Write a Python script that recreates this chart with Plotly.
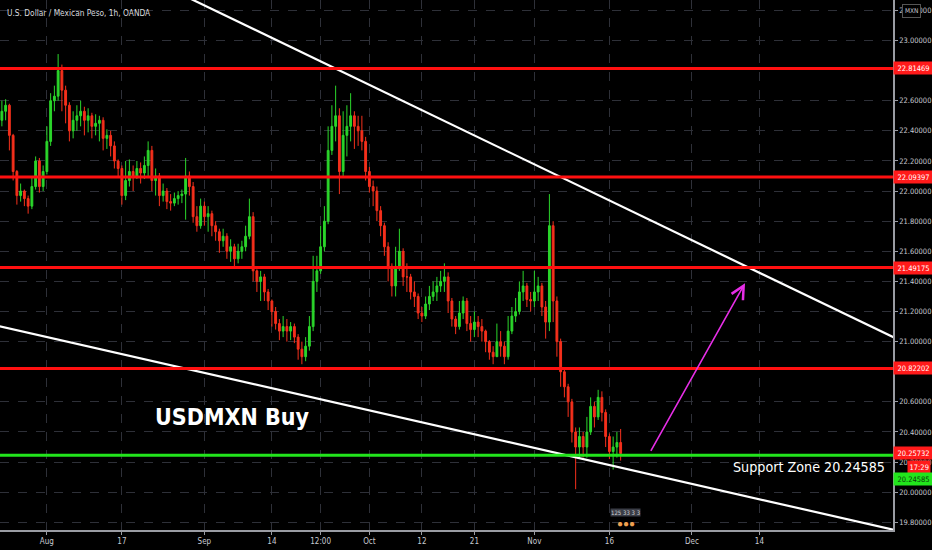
import pandas as pd
import plotly.graph_objects as go

# USD/MXN 1h chart (OANDA) - candles at 12h resolution
first_open = 22.47
closes = [22.53, 22.57, 22.37, 22.13, 21.97, 22.00, 21.95, 21.90, 22.03, 22.20,
          22.03, 22.13, 22.33, 22.60, 22.63, 22.80, 22.67, 22.57, 22.40, 22.47,
          22.50, 22.53, 22.47, 22.50, 22.43, 22.45, 22.47, 22.35, 22.37, 22.30,
          22.20, 22.15, 21.97, 22.07, 22.13, 22.10, 22.15, 22.12, 22.17, 22.27,
          22.07, 22.10, 21.97, 22.00, 21.93, 21.92, 21.95, 21.97, 21.98, 22.10,
          22.03, 21.83, 21.77, 21.90, 21.83, 21.85, 21.77, 21.73, 21.67, 21.70,
          21.60, 21.63, 21.55, 21.60, 21.63, 21.70, 21.83, 21.47, 21.40, 21.43,
          21.33, 21.27, 21.20, 21.12, 21.07, 21.10, 21.07, 21.10, 21.03, 20.95,
          20.90, 20.97, 21.10, 21.40, 21.47, 21.63, 21.80, 22.27, 22.43, 22.50,
          22.13, 22.37, 22.43, 22.50, 22.43, 22.40, 22.33, 22.13, 22.03, 22.00,
          21.87, 21.77, 21.63, 21.50, 21.37, 21.50, 21.60, 21.43, 21.43, 21.33,
          21.30, 21.19, 21.17, 21.25, 21.30, 21.33, 21.37, 21.40, 21.43, 21.27,
          21.15, 21.10, 21.19, 21.27, 21.12, 21.08, 21.13, 21.10, 21.07, 21.00,
          20.93, 20.90, 21.00, 20.97, 20.90, 21.07, 21.17, 21.20, 21.33, 21.37,
          21.28, 21.27, 21.33, 21.37, 21.23, 21.13, 21.77, 21.27, 21.00, 20.80,
          20.70, 20.60, 20.40, 20.30, 20.37, 20.30, 20.40, 20.57, 20.50, 20.63,
          20.53, 20.37, 20.27, 20.30, 20.33, 20.257]
highs = [22.60, 22.61, 22.58, 22.38, 22.14, 22.05, 22.01, 21.97, 22.10, 22.23,
         22.22, 22.17, 22.43, 22.65, 22.70, 22.91, 22.84, 22.70, 22.59, 22.53,
         22.57, 22.60, 22.56, 22.55, 22.52, 22.51, 22.50, 22.49, 22.41, 22.40,
         22.33, 22.21, 22.17, 22.20, 22.21, 22.17, 22.20, 22.19, 22.23, 22.33,
         22.30, 22.15, 22.12, 22.05, 22.02, 21.98, 21.99, 22.00, 22.01, 22.22,
         22.13, 22.06, 21.90, 21.95, 21.93, 21.90, 21.87, 21.80, 21.75, 21.75,
         21.72, 21.68, 21.65, 21.65, 21.67, 21.77, 21.95, 21.86, 21.48, 21.47,
         21.45, 21.35, 21.28, 21.23, 21.15, 21.17, 21.15, 21.13, 21.12, 21.05,
         21.00, 21.03, 21.17, 21.57, 21.57, 21.77, 21.90, 22.43, 22.57, 22.70,
         22.55, 22.53, 22.57, 22.65, 22.53, 22.50, 22.50, 22.36, 22.16, 22.07,
         22.03, 21.90, 21.79, 21.66, 21.52, 21.63, 21.75, 21.62, 21.52, 21.45,
         21.40, 21.32, 21.23, 21.30, 21.37, 21.40, 21.43, 21.47, 21.52, 21.46,
         21.29, 21.17, 21.27, 21.30, 21.29, 21.17, 21.20, 21.17, 21.15, 21.08,
         21.01, 20.97, 21.12, 21.07, 21.00, 21.17, 21.23, 21.29, 21.40, 21.47,
         21.39, 21.33, 21.47, 21.43, 21.39, 21.27, 21.98, 21.80, 21.30, 21.02,
         20.83, 20.72, 20.62, 20.43, 20.43, 20.40, 20.50, 20.63, 20.60, 20.68,
         20.67, 20.55, 20.39, 20.37, 20.40, 20.42]
lows = [22.43, 22.47, 22.27, 22.07, 21.91, 21.93, 21.90, 21.85, 21.88, 22.01,
        21.99, 22.00, 22.11, 22.30, 22.53, 22.60, 22.53, 22.45, 22.33, 22.35,
        22.40, 22.43, 22.37, 22.39, 22.35, 22.37, 22.33, 22.27, 22.28, 22.23,
        22.15, 22.10, 21.91, 21.94, 22.03, 22.00, 22.08, 22.05, 22.08, 22.10,
        22.00, 21.97, 21.90, 21.93, 21.88, 21.87, 21.90, 21.91, 21.92, 21.81,
        21.97, 21.79, 21.73, 21.75, 21.77, 21.73, 21.70, 21.67, 21.59, 21.63,
        21.55, 21.53, 21.50, 21.52, 21.55, 21.60, 21.68, 21.40, 21.33, 21.27,
        21.27, 21.21, 21.10, 21.08, 21.01, 21.03, 21.00, 21.01, 20.99, 20.88,
        20.85, 20.87, 20.94, 21.07, 21.33, 21.45, 21.60, 21.78, 22.24, 22.33,
        21.98, 22.10, 22.23, 22.33, 22.28, 22.30, 22.27, 22.07, 21.99, 21.90,
        21.80, 21.70, 21.57, 21.40, 21.30, 21.30, 21.47, 21.37, 21.33, 21.28,
        21.23, 21.15, 21.13, 21.15, 21.21, 21.27, 21.27, 21.33, 21.33, 21.19,
        21.10, 21.05, 21.08, 21.15, 21.07, 21.00, 21.03, 21.03, 21.00, 20.93,
        20.88, 20.85, 20.90, 20.90, 20.85, 20.88, 21.05, 21.13, 21.18, 21.27,
        21.23, 21.20, 21.23, 21.27, 21.17, 21.02, 21.07, 21.13, 20.90, 20.70,
        20.63, 20.50, 20.33, 20.02, 20.23, 20.23, 20.23, 20.38, 20.43, 20.48,
        20.47, 20.30, 20.22, 20.15, 20.23, 20.21]
opens = [first_open] + closes[:-1]

# candle times: two 12h bars per trading day from Jul 24 2020
days = pd.bdate_range("2020-07-24", periods=len(closes) // 2)
times = [d + pd.Timedelta(hours=h) for d in days for h in (0, 12)]

# horizontal levels drawn on the chart
red_levels = [22.81469, 22.09397, 21.49175, 20.82202]
support_level = 20.24585
last_price = 20.25732

# trend lines (date, price)
upper_dates = ["2020-08-24", "2021-01-08"]
upper_prices = [23.377, 21.002]
lower_dates = ["2020-07-20", "2021-01-08"]
lower_prices = [21.144, 19.738]

# projected move arrow
arrow_from = ("2020-11-23 10:00", 20.264)
arrow_to = ("2020-12-10 02:00", 21.388)

tick_dates = ["2020-08-03", "2020-08-17", "2020-09-01", "2020-09-14",
              "2020-09-22 12:00", "2020-10-01", "2020-10-12", "2020-10-21",
              "2020-11-02", "2020-11-16", "2020-12-01", "2020-12-14"]
tick_text = ["Aug", "17", "Sep", "14", "12:00", "Oct", "12", "21",
             "Nov", "16", "Dec", "14"]
# price scale labels (22.8 and 20.8 sit under the level tags)
price_ticks = [19.8, 20.0, 20.2, 20.4, 20.6, 21.0, 21.2, 21.4, 21.6, 21.8,
               22.0, 22.2, 22.4, 22.6, 23.0, 23.2]

GREEN = "#2bd62b"
RED = "#f5301c"
AXIS_TXT = "#c8cad0"
GRID = "#2e3038"
FONT = "DejaVu Sans Condensed, DejaVu Sans, sans-serif"

fig = go.Figure()

fig.add_trace(go.Candlestick(
    x=times, open=opens, high=highs, low=lows, close=closes,
    increasing=dict(line=dict(color=GREEN, width=1), fillcolor=GREEN),
    decreasing=dict(line=dict(color=RED, width=1), fillcolor=RED),
    whiskerwidth=0, showlegend=False, hoverinfo="skip",
))

for d, p in ((upper_dates, upper_prices), (lower_dates, lower_prices)):
    fig.add_trace(go.Scatter(x=d, y=p, mode="lines",
                             line=dict(color="white", width=2.2),
                             showlegend=False, hoverinfo="skip"))

shapes = []
for lvl in red_levels:
    shapes.append(dict(type="line", xref="paper", x0=0, x1=1, yref="y",
                       y0=lvl, y1=lvl, line=dict(color="#ff1010", width=3)))
shapes.append(dict(type="line", xref="paper", x0=0, x1=1, yref="y",
                   y0=support_level, y1=support_level,
                   line=dict(color="#22e51c", width=3)))

tag_font = dict(family=FONT, size=7.5, color="white")
annotations = [
    dict(xref="paper", yref="paper", x=0.006, y=0.975, xanchor="left",
         yanchor="middle", showarrow=False,
         text="U.S. Dollar / Mexican Peso, 1h, OANDA",
         font=dict(family=FONT, size=8.3, color="#d8dade")),
    dict(xref="paper", yref="paper", x=0.26, y=0.214, showarrow=False,
         text="USDMXN Buy", xanchor="center", yanchor="middle",
         font=dict(family=FONT, size=23, color="white", weight="bold")),
    dict(xref="paper", yref="paper", x=0.9935, y=0.118, showarrow=False,
         text="Support Zone " + f"{support_level:.5f}", xanchor="right",
         yanchor="middle", font=dict(family=FONT, size=14.2, color="white")),
    dict(xref="x", yref="y", axref="x", ayref="y",
         x=arrow_to[0], y=arrow_to[1], ax=arrow_from[0], ay=arrow_from[1],
         text="", showarrow=True, arrowhead=5, arrowsize=1.6,
         arrowwidth=1.6, arrowcolor="#e62ee6"),
]

# price tags on the right axis
for lvl in red_levels + [last_price]:
    annotations.append(dict(xref="paper", yref="y", x=1, y=lvl,
                            xanchor="left", yanchor="middle", showarrow=False,
                            text=f"{lvl:.5f}", bgcolor="#ff1a1a", width=36,
                            align="center", borderpad=1.5, font=tag_font))
annotations.append(dict(xref="paper", yref="paper", x=1.029, y=0.118,
                        xanchor="center", yanchor="middle", showarrow=False,
                        text="17:29", bgcolor="#ff1a1a", borderpad=1.5,
                        font=tag_font))
annotations.append(dict(xref="paper", yref="paper", x=1, y=0.096,
                        xanchor="left", yanchor="middle", showarrow=False,
                        text=f"{support_level:.5f}", bgcolor="#22e51c",
                        width=36, align="center", borderpad=1.5,
                        font=dict(family=FONT, size=7.5, color="#0a3a0a")))
annotations.append(dict(xref="paper", yref="paper", x=1.0207, y=0.979,
                        xanchor="center", yanchor="middle", showarrow=False,
                        text="MXN", bgcolor="black", bordercolor="#555",
                        borderwidth=1, borderpad=2,
                        font=dict(family=FONT, size=6.5, color="#c8cad0")))
# events badge near the bottom
annotations.append(dict(xref="paper", yref="paper", x=0.701, y=0.033,
                        xanchor="center", yanchor="middle", showarrow=False,
                        text="125 33 3 3", bgcolor="#3a3d46", borderpad=0,
                        font=dict(family=FONT, size=6, color="#d0d0d0")))
annotations.append(dict(xref="paper", yref="paper", x=0.701, y=0.013,
                        xanchor="center", yanchor="middle", showarrow=False,
                        text="●●●", font=dict(size=10, color="#f0a050")))

fig.update_layout(
    width=932, height=550,
    margin=dict(l=0, r=39, t=0, b=20),
    paper_bgcolor="black", plot_bgcolor="black",
    shapes=shapes, annotations=annotations,
    showlegend=False,
    xaxis=dict(
        type="date",
        rangebreaks=[dict(bounds=["sat", "mon"])],
        range=["2020-07-23 18:00", "2021-01-06 19:30"],
        rangeslider=dict(visible=False),
        tickvals=tick_dates, ticktext=tick_text,
        tickfont=dict(family=FONT, size=8, color=AXIS_TXT),
        showgrid=True, gridcolor=GRID, griddash="dash", gridwidth=1,
        showline=True, linecolor="#9a9ca3", linewidth=1.5,
        ticks="outside", ticklen=3, tickcolor="#9a9ca3",
        zeroline=False, fixedrange=True,
    ),
    yaxis=dict(
        side="right",
        range=[19.749, 23.269],
        tickvals=price_ticks, tickformat=".5f",
        tickfont=dict(family=FONT, size=7.5, color=AXIS_TXT),
        showgrid=True, gridcolor=GRID, griddash="dash", gridwidth=1,
        showline=True, linecolor="#9a9ca3", linewidth=1.5,
        ticks="outside", ticklen=3, tickcolor="#9a9ca3",
        zeroline=False, fixedrange=True,
    ),
)

# the page body has an 8px default margin; drop it so the chart sits at 0,0
fig.write_html("out.html", config={"displayModeBar": False},
               post_script="document.body.style.margin = '0';")
